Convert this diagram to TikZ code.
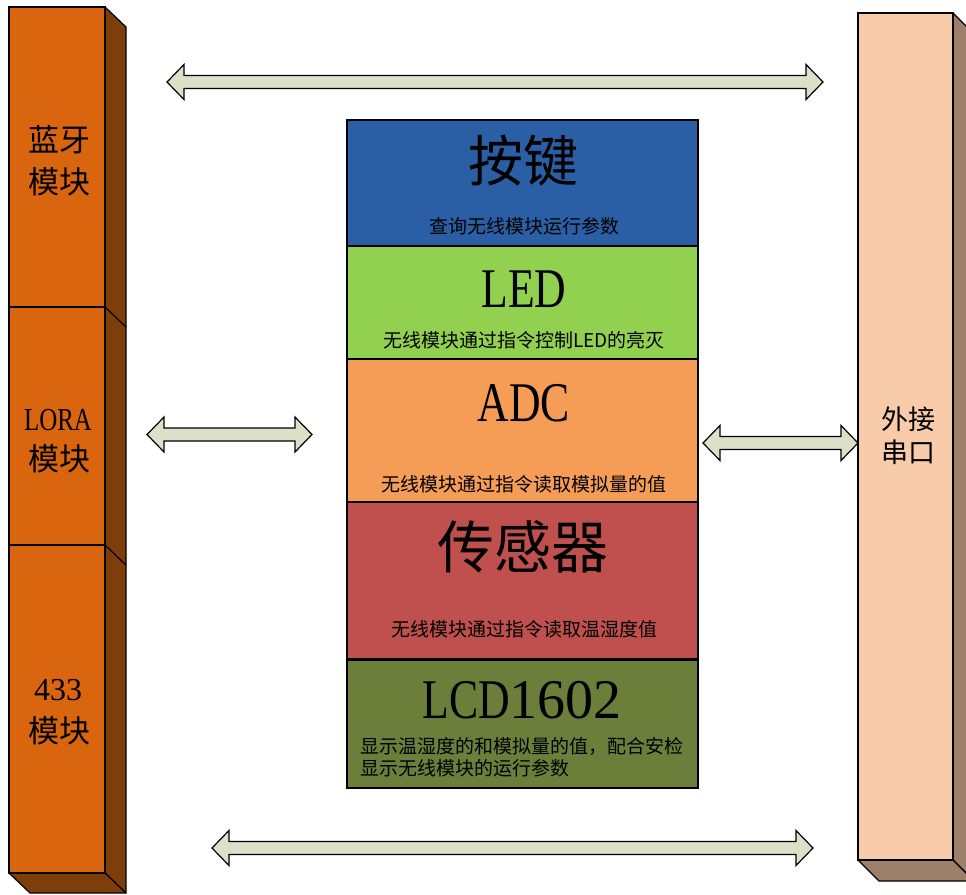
\documentclass[tikz,border=0pt]{standalone}
\usepackage{fontspec}
\usetikzlibrary{calc}
\newfontfamily\cjk{Noto Sans CJK SC}
\newfontfamily\nserif[FakeStretch=0.78]{Liberation Serif}
\newfontfamily\dserif{Liberation Serif}
\definecolor{orfront}{RGB}{217,101,14}
\definecolor{orside}{RGB}{125,62,10}
\definecolor{pkfront}{RGB}{248,203,170}
\definecolor{pkside}{RGB}{158,127,106}
\definecolor{arfill}{RGB}{221,224,200}
\definecolor{cblue}{RGB}{42,95,166}
\definecolor{cgreen}{RGB}{146,208,80}
\definecolor{corange}{RGB}{245,157,86}
\definecolor{cred}{RGB}{192,80,77}
\definecolor{colive}{RGB}{107,127,58}
\tikzset{
  face/.style={draw=black, line width=1.2pt, line join=round},
  seg/.style={draw=black, line width=1.2pt, inner sep=0pt, outer sep=0pt},
  dblarrow/.style={draw=black, fill=arfill, line width=1.2pt, line join=miter},
  big/.style={inner sep=0pt, font=\cjk\fontsize{55}{60}\selectfont},
  bigl/.style={inner sep=0pt, anchor=base, font=\nserif\fontsize{56}{60}\selectfont},
  small/.style={inner sep=0pt, font=\cjk\fontsize{19}{23}\selectfont},
  lab/.style={inner sep=0pt, font=\cjk\fontsize{31}{34}\selectfont},
  labl/.style={inner sep=0pt, anchor=base, font=\nserif\fontsize{32}{34}\selectfont},
}
\newcommand\mydarrow[2]{%
  \draw[dblarrow] (#1) -- ($(#1)+(17,-17.5)$) -- ($(#1)+(17,-6.5)$) -- ($(#2)+(-17,-6.5)$)
   -- ($(#2)+(-17,-17.5)$) -- (#2) -- ($(#2)+(-17,17.5)$) -- ($(#2)+(-17,6.5)$)
   -- ($(#1)+(17,6.5)$) -- ($(#1)+(17,17.5)$) -- cycle;}
\begin{document}
\begin{tikzpicture}[x=1pt,y=-1pt]
\clip (0,0) rectangle (966,894);
\fill[white] (0,0) rectangle (966,894);

% ---------- left column ----------
\draw[face, fill=orside] (105,7) -- (126,27) -- (126,893) -- (105,873) -- cycle;
\draw[face, fill=orside] (9,873) -- (105,873) -- (126,893) -- (30,893) -- cycle;
\draw[face] (105,307) -- (126,327);
\draw[face] (105,545) -- (126,565);
\node[seg, fill=orfront, minimum width=96pt, minimum height=300pt] (lb1) at (57,157) {};
\node[seg, fill=orfront, minimum width=96pt, minimum height=238pt] (lb2) at (57,426) {};
\node[seg, fill=orfront, minimum width=96pt, minimum height=328pt] (lb3) at (57,709) {};
\node[lab] (t1a) at (59,140) {蓝牙};
\node[lab] (t1b) at (59,182) {模块};
\node[labl] (t2a) at (58,430) {LORA};
\node[lab] (t2b) at (59,459) {模块};
\node[labl, font=\dserif\fontsize{32}{34}\selectfont] (t3a) at (58,700) {433};
\node[lab] (t3b) at (59,731) {模块};

% ---------- right column ----------
\draw[face, fill=pkside] (953,13) -- (974,34) -- (974,881) -- (953,860) -- cycle;
\draw[face, fill=pkside] (858,860) -- (953,860) -- (974,881) -- (879,881) -- cycle;
\node[seg, fill=pkfront, minimum width=95pt, minimum height=847pt] (rb) at (905.5,436.5) {};
\node[inner sep=0pt, font=\cjk\fontsize{27}{32}\selectfont] (r1) at (908,419) {外接};
\node[inner sep=0pt, font=\cjk\fontsize{27}{32}\selectfont] (r2) at (908,452) {串口};

% ---------- centre stack ----------
\node[seg, fill=cblue, minimum width=351pt, minimum height=126pt] (s1) at (522.5,183) {};
\node[seg, fill=cgreen, minimum width=351pt, minimum height=113pt] (s2) at (522.5,302.5) {};
\node[seg, fill=corange, minimum width=351pt, minimum height=143pt] (s3) at (522.5,430.5) {};
\node[seg, fill=cred, minimum width=351pt, minimum height=157pt] (s4) at (522.5,580.5) {};
\node[seg, fill=colive, minimum width=351pt, minimum height=128pt] (s5) at (522.5,724) {};

\node[big] (h1) at (523,161) {按键};
\node[small] (d1) at (524,226) {查询无线模块运行参数};
\node[bigl] (h2) at (524,307) {LED};
\node[small] (d2) at (524,340) {无线模块通过指令控制LED的亮灭};
\node[bigl] (h3) at (524,421) {ADC};
\node[small] (d3) at (524,484) {无线模块通过指令读取模拟量的值};
\node[big, font=\cjk\fontsize{57}{60}\selectfont] (h4) at (523,547) {传感器};
\node[small] (d4) at (524,629) {无线模块通过指令读取温湿度值};
\node[bigl] (h5) at (522,718) {LCD{\dserif 1602}};
\node[small, anchor=west] (d5a) at (360,746) {显示温湿度的和模拟量的值，配合安检};
\node[small, anchor=west] (d5b) at (360,768) {显示无线模块的运行参数};

% ---------- arrows ----------
\coordinate (aT1) at (167,82);
\coordinate (aT2) at (823,82);
\coordinate (aL1) at (147,434.5);
\coordinate (aL2) at (312,434.5);
\coordinate (aR1) at (703,443);
\coordinate (aR2) at (858,443);
\coordinate (aB1) at (212,848);
\coordinate (aB2) at (813,848);
\mydarrow{aT1}{aT2}
\mydarrow{aL1}{aL2}
\mydarrow{aR1}{aR2}
\mydarrow{aB1}{aB2}
\end{tikzpicture}
\end{document}
